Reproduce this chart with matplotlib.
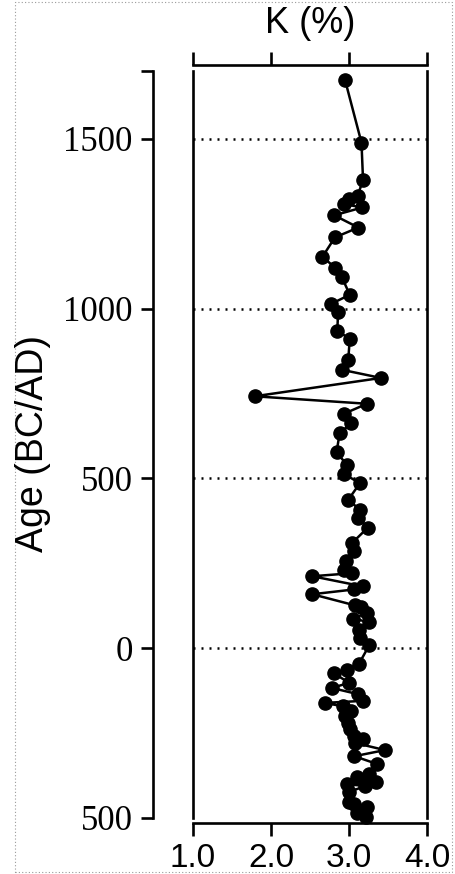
import matplotlib
matplotlib.use("Agg")
import matplotlib.pyplot as plt
from matplotlib.patches import Rectangle

# K (%) profile, top (young) to bottom (old)
age = [1673, 1489, 1379, 1332, 1322, 1308, 1298, 1275, 1239, 1210,
       1153, 1121, 1092, 1041, 1014, 989, 935, 911, 849, 820,
       796, 742, 720, 690, 663, 633, 577, 541, 514, 486,
       437, 408, 384, 355, 310, 286, 257, 229, 221, 212,
       182, 173, 159, 126, 120, 104, 87, 77, 53, 29,
       9, -45, -63, -74, -102, -117, -135, -155, -161, -171,
       -185, -200, -220, -239, -259, -266, -279, -300, -318, -341,
       -369, -378, -393, -400, -406, -423, -452, -460, -467, -484,
       -496]
k_pct = [2.95, 3.16, 3.18, 3.11, 3.00, 2.94, 3.17, 2.81, 3.12, 2.82,
         2.66, 2.82, 2.91, 3.01, 2.77, 2.86, 2.85, 3.01, 2.99, 2.91,
         3.41, 1.79, 3.23, 2.93, 3.03, 2.88, 2.84, 2.97, 2.93, 3.14,
         2.99, 3.14, 3.12, 3.24, 3.04, 3.06, 2.96, 2.93, 3.04, 2.53,
         3.18, 3.06, 2.53, 3.08, 3.16, 3.23, 3.05, 3.26, 3.13, 3.14,
         3.26, 3.13, 2.97, 2.81, 3.00, 2.78, 3.11, 3.18, 2.69, 2.92,
         3.03, 2.95, 2.99, 3.01, 3.06, 3.18, 3.08, 3.46, 3.07, 3.36,
         3.25, 3.10, 3.35, 2.97, 3.21, 3.00, 3.00, 3.06, 3.23, 3.10,
         3.22]

x_ticks = [1.0, 2.0, 3.0, 4.0]
x_ticklabels = ["1.0", "2.0", "3.0", "4.0"]
y_ticks = [-500, 0, 500, 1000, 1500, 1700]
y_ticklabels = ["500", "0", "500", "1000", "1500", ""]
grid_ages = [0, 500, 1000, 1500]

W, H = 455, 874
fig = plt.figure(figsize=(W / 100, H / 100), dpi=100)

# faint scan border
fig.patches.append(Rectangle((15 / W, 2 / H), 437 / W, 870 / H, transform=fig.transFigure,
                             fill=False, ec="#9a9a9a", lw=0.8, ls=(0, (1, 2))))

ax = fig.add_axes([193 / W, 1 - 818 / H, 234 / W, 747 / H])
ax.set_xlim(1.0, 4.0)
ax.set_ylim(-500, 1700)

for g in grid_ages:
    ax.axhline(g, color="black", lw=1.8, ls=(0, (0.8, 2.4)), zorder=1)

ax.plot(k_pct, age, color="black", lw=1.8, marker="o", ms=9.5, zorder=3, clip_on=False)

# box lines
lw_sp = 1.9
ax.axvline(1.0, color="black", lw=lw_sp, clip_on=False)
ax.spines["right"].set_linewidth(lw_sp)
ax.spines["left"].set_position(("outward", 28.8))
ax.spines["left"].set_linewidth(lw_sp)
ax.spines["top"].set_position(("outward", 4.3))
ax.spines["bottom"].set_position(("outward", 3.6))
ax.spines["top"].set_linewidth(lw_sp)
ax.spines["bottom"].set_linewidth(lw_sp)

ax.xaxis.set_ticks_position("both")
ax.set_xticks(x_ticks)
ax.set_xticklabels(x_ticklabels, fontfamily="Liberation Sans", fontsize=24)
ax.tick_params(axis="x", direction="out", length=9.5, width=lw_sp, pad=5,
               top=True, labeltop=False)

ax.set_yticks(y_ticks)
ax.set_yticklabels(y_ticklabels, fontfamily="Liberation Serif", fontsize=25)
ax.tick_params(axis="y", direction="out", length=8.5, width=lw_sp, pad=6, right=False)

fig.text(310 / W, 1 - 33 / H, "K (%)", ha="center", va="baseline",
         fontfamily="Liberation Sans", fontsize=26)
fig.text(33 / W, 1 - 443 / H, "Age (BC/AD)", ha="center", va="center", rotation=90,
         fontfamily="Liberation Sans", fontsize=27)

fig.savefig("out.png", dpi=100)
